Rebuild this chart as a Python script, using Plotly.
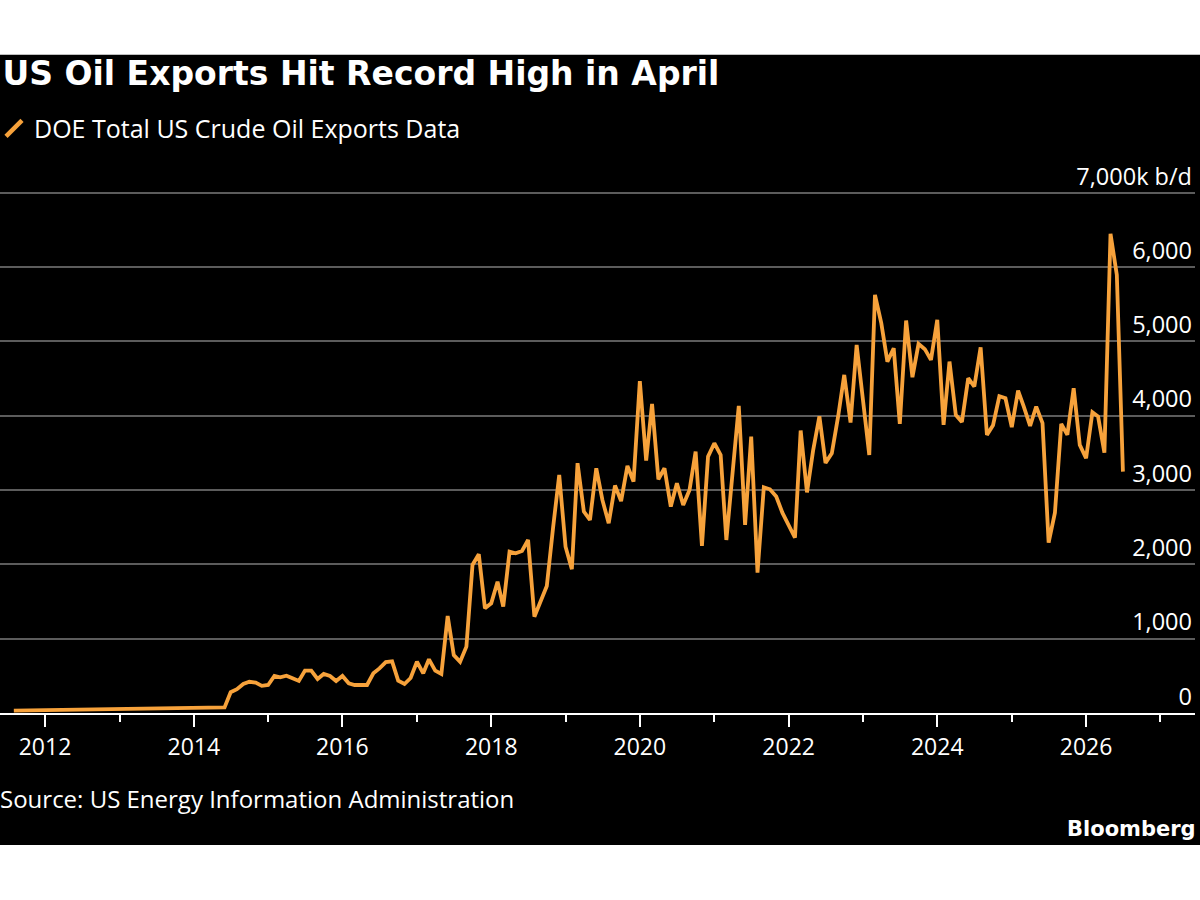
import plotly.graph_objects as go
import pandas as pd

# ---------------- data (monthly, k b/d) ----------------
start_month = "2011-08-01"
exports_2011 = [31, 32, 33, 34, 35]
exports_2012 = [36, 37, 38, 39, 40, 41, 42, 43, 44, 45, 46, 47]
exports_2013 = [48, 49, 50, 51, 52, 53, 55, 57, 58, 60, 61, 62]
exports_2014 = [63, 65, 66, 68, 70, 75, 280, 320, 390, 420, 410, 365]
exports_2015 = [377, 498, 480, 502, 467, 431, 570, 570, 458, 525, 498, 431]
exports_2016 = [498, 400, 377, 377, 377, 534, 600, 685, 695, 435, 390, 471]
exports_2017 = [690, 534, 722, 570, 525, 1305, 780, 690, 893, 1992, 2136, 1409]
exports_2018 = [1476, 1767, 1431, 2171, 2149, 2180, 2328, 1296, 1498, 1709, 2500, 3203]
exports_2019 = [2238, 1934, 3361, 2710, 2597, 3293, 2867, 2553, 3060, 2850, 3324, 3114]
exports_2020 = [4466, 3396, 4159, 3145, 3293, 2777, 3091, 2799, 3001, 3517, 2248, 3450]
exports_2021 = [3630, 3472, 2328, 3300, 4132, 2530, 3719, 1888, 3037, 3010, 2912, 2696]
exports_2022 = [2520, 2358, 3800, 2968, 3530, 3993, 3365, 3495, 3990, 4549, 3907, 4953]
exports_2023 = [4210, 3472, 5626, 5245, 4728, 4908, 3890, 5280, 4518, 4966, 4895, 4751]
exports_2024 = [5289, 3876, 4728, 4011, 3914, 4505, 4392, 4920, 3742, 3872, 4262, 4235]
exports_2025 = [3845, 4338, 4123, 3863, 4123, 3899, 2292, 2696, 3890, 3742, 4370, 3607]
exports_2026 = [3428, 4047, 3988, 3503, 6447, 5895, 3248]

values = (exports_2011 + exports_2012 + exports_2013 + exports_2014 + exports_2015
          + exports_2016 + exports_2017 + exports_2018 + exports_2019 + exports_2020
          + exports_2021 + exports_2022 + exports_2023 + exports_2024 + exports_2025
          + exports_2026)
dates = pd.date_range(start_month, periods=len(values), freq="MS")

y_tickvals = [0, 1000, 2000, 3000, 4000, 5000, 6000, 7000]
y_ticktext = ["0", "1,000", "2,000", "3,000", "4,000", "5,000", "6,000", "7,000k b/d"]

title_text = "US Oil Exports Hit Record High in April"
series_name = "DOE Total US Crude Oil Exports Data"
source_text = "Source: US Energy Information Administration"
brand_text = "Bloomberg"

# ---------------- styling / layout ----------------
ORANGE = "#f7a23b"
GRID = "#5c5c5c"
FONT = "Open Sans, Roboto, sans-serif"
W, H = 1200, 900
PLOT_LEFT, PLOT_RIGHT = 0, 1195
Y0_PX, Y7000_PX = 713, 193
Y_MAX = 7050
px_per_unit = (Y0_PX - Y7000_PX) / 7000.0
plot_top = Y0_PX - Y_MAX * px_per_unit
plot_h = Y0_PX - plot_top


def py(pix):
    """pixel row -> paper y"""
    return (Y0_PX - pix) / plot_h


def px(pix):
    return (pix - PLOT_LEFT) / (PLOT_RIGHT - PLOT_LEFT)


fig = go.Figure()
fig.add_trace(go.Scatter(
    x=dates, y=values, mode="lines", name=series_name,
    line=dict(color=ORANGE, width=3.8), showlegend=False, hoverinfo="x+y",
))
# legend entry with a diagonal stroke symbol
fig.add_trace(go.Scatter(
    x=[None], y=[None], mode="markers", name=series_name,
    marker=dict(symbol="line-ne", size=21, color=ORANGE,
                line=dict(color=ORANGE, width=4.5)),
    showlegend=True,
))

fig.add_shape(type="rect", xref="paper", yref="paper",
              x0=px(-10), x1=px(1210), y0=py(845), y1=py(55),
              fillcolor="black", line=dict(width=0), layer="below")

fig.update_layout(
    width=W, height=H,
    margin=dict(l=PLOT_LEFT, r=W - PLOT_RIGHT, t=plot_top, b=H - Y0_PX, autoexpand=False),
    paper_bgcolor="white", plot_bgcolor="black",
    font=dict(family=FONT, color="white", size=23),
    title=dict(text=f"<b>{title_text}</b>", x=0.002, xanchor="left", xref="container",
               y=1 - 73 / H, yanchor="middle", yref="container",
               font=dict(family="DejaVu Sans", size=33, color="white")),
    showlegend=True,
    legend=dict(x=px(-6), xanchor="left", xref="paper",
                y=py(129), yanchor="middle", yref="paper",
                bgcolor="rgba(0,0,0,0)", font=dict(family=FONT, size=25, color="white"),
                itemclick=False, itemdoubleclick=False),
    xaxis=dict(
        type="date", range=["2011-05-25", "2027-06-20"],
        tick0="2012-01-01", dtick="M24", tickformat="%Y",
        ticks="outside", ticklen=12, tickwidth=2, tickcolor="white",
        showline=True, linecolor="white", linewidth=2,
        showgrid=False, zeroline=False,
        tickfont=dict(family=FONT, size=23, color="white"),
        minor=dict(ticks="outside", ticklen=7, tickwidth=2, tickcolor="white",
                   tick0="2011-01-01", dtick="M12", showgrid=False),
    ),
    yaxis=dict(
        range=[0, Y_MAX], side="right",
        tickvals=y_tickvals, ticktext=y_ticktext,
        ticklabelposition="inside top", ticklabeloverflow="allow",
        ticks="", showgrid=True, gridcolor=GRID, gridwidth=2,
        zeroline=False, showline=False,
        tickfont=dict(family=FONT, size=23.5, color="white"),
    ),
    annotations=[
        dict(text=source_text, xref="paper", yref="paper", x=px(-2), y=py(798),
             xanchor="left", yanchor="middle", showarrow=False,
             font=dict(family=FONT, size=24, color="white")),
        dict(text=f"<b>{brand_text}</b>", xref="paper", yref="paper", x=px(1198), y=py(829),
             xanchor="right", yanchor="middle", showarrow=False,
             font=dict(family="DejaVu Sans", size=21, color="white")),
    ],
)

fig.write_html("out.html", config={"displayModeBar": False},
               post_script="document.body.style.margin='0';document.body.style.overflow='hidden';")
